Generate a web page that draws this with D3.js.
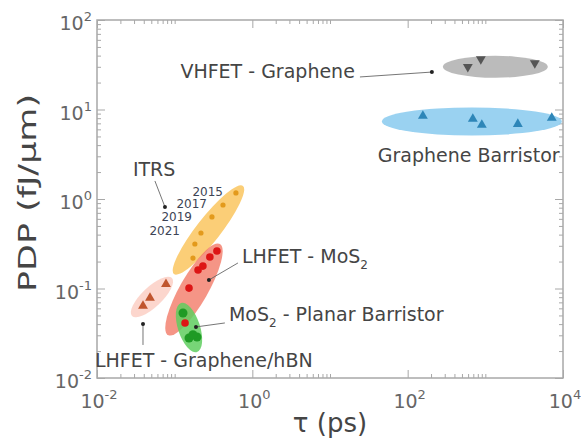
<!DOCTYPE html>
<html>
<head>
<meta charset="utf-8">
<script src="https://cdn.jsdelivr.net/npm/d3@7"></script>
<style>
  body { margin: 0; background: #fff; }
  text { font-family: "DejaVu Sans", sans-serif; fill: #454545; }
</style>
</head>
<body>
<div id="chart"></div>
<script>
// tick values
const xMajor = [1e-2, 1e0, 1e2, 1e4];
const yMajor = [1e-2, 1e-1, 1e0, 1e1, 1e2];

// series: delay tau (ps) and PDP (fJ/um)
const vhfetTau = [595, 875, 4335];
const vhfetPdp = [29.9, 36.6, 33];
const barristorTau = [157, 690, 901, 2620, 7170];
const barristorPdp = [8.46, 7.83, 6.71, 6.88, 8.04];
const itrsTau = [0.615, 0.419, 0.302, 0.218, 0.182, 0.172];
const itrsPdp = [1.17, 0.857, 0.63, 0.417, 0.314, 0.219];
const mos2Tau = [0.350, 0.284, 0.231, 0.200, 0.153, 0.136];
const mos2Pdp = [0.262, 0.225, 0.178, 0.161, 0.101, 0.0412];
const planarTau = [0.128, 0.153, 0.194, 0.172];
const planarPdp = [0.0532, 0.0280, 0.0287, 0.0305];
const grapheneTau = [0.0391, 0.0481, 0.0773];
const graphenePdp = [0.0637, 0.0783, 0.112];

// shaded envelopes: ends of the long axis in data units
const envelopes = [
    {from: [284, 30], to: [6370, 30], fill: "#b4b4b4", opacity: 0.9},
    {from: [46.6, 7.35], to: [9650, 7.35], fill: "#8fcdf0", opacity: 0.9},
    {from: [0.098, 0.145], to: [0.757, 1.40], fill: "#f9bd4a", opacity: 0.75},
    {from: [0.0282, 0.0493], to: [0.0922, 0.131], fill: "#fccfc4", opacity: 0.85},
    {from: [0.082, 0.0302], to: [0.383, 0.314], fill: "#f27a68", opacity: 0.8},
    {from: [0.1205, 0.0689], to: [0.194, 0.0195], fill: "#5fce5f", opacity: 0.85}
];
const envelopeWidth = [11, 14, 12, 10, 14, 11];

// annotation leader lines: [dot, line end]
const leaders = [
    [[205, 26.2], [24.3, 23.1]],
    [[0.075, 0.815], [0.0557, 1.59]],
    [[0.276, 0.1245], [0.653, 0.193]],
    [[0.188, 0.0372], [0.443, 0.0412]],
    [[0.0391, 0.0401], [0.0391, 0.0234]]
];

const labels = [
    {text: "VHFET - Graphene", at: [20.9, 22.5], anchor: "end"},
    {text: "Graphene Barristor", at: [41.3, 2.59], anchor: "start"},
    {text: "ITRS", at: [0.029, 1.81], anchor: "start"},
    {text: "LHFET - MoS", sub: "2", at: [0.734, 0.193], anchor: "start"},
    {text: "MoS", sub: "2", after: " - Planar Barristor", at: [0.5, 0.0434], anchor: "start"},
    {text: "LHFET - Graphene/hBN", at: [0.0094, 0.0133], anchor: "start"}
];
const years = ["2015", "2017", "2019", "2021"];
const yearAt = [[0.419, 1.09], [0.261, 0.80], [0.167, 0.568], [0.117, 0.396]];

const W = 581, H = 441;
const margin = {top: 20, right: 18, bottom: 63, left: 97};
const width = W - margin.left - margin.right;
const height = H - margin.top - margin.bottom;

const svg = d3.select("#chart").append("svg")
    .attr("width", W)
    .attr("height", H)
    .append("g")
    .attr("transform", `translate(${margin.left}, ${margin.top})`);

const x = d3.scaleLog().domain([1e-2, 1e4]).range([0, width]);
const y = d3.scaleLog().domain([1e-2, 1e2]).range([height, 0]);

// minor ticks: x gets 2..10 in the first decade of each labelled pair, y gets 2..9 per decade
let xMinor = [];
[-2, 0, 2].forEach(p => { for (let m = 2; m <= 9; m++) xMinor.push(m * Math.pow(10, p)); xMinor.push(Math.pow(10, p + 1)); });
let yMinor = [];
[-2, -1, 0, 1].forEach(p => { for (let m = 2; m <= 9; m++) yMinor.push(m * Math.pow(10, p)); });

const axisColor = "#a8a8a8";

function styleAxis(g) {
    g.select(".domain").remove();
    g.selectAll("line").attr("stroke", axisColor).attr("stroke-width", 1);
    g.selectAll("text").remove();
}

svg.append("g").attr("transform", `translate(0, ${height})`)
    .call(d3.axisBottom(x).tickValues(xMajor).tickSize(-8)).call(styleAxis);
svg.append("g").attr("transform", `translate(0, ${height})`)
    .call(d3.axisBottom(x).tickValues(xMinor).tickSize(-4)).call(styleAxis);
svg.append("g")
    .call(d3.axisTop(x).tickValues(xMajor).tickSize(-8)).call(styleAxis);
svg.append("g")
    .call(d3.axisTop(x).tickValues(xMinor).tickSize(-4)).call(styleAxis);
svg.append("g")
    .call(d3.axisLeft(y).tickValues(yMajor).tickSize(-8)).call(styleAxis);
svg.append("g")
    .call(d3.axisLeft(y).tickValues(yMinor).tickSize(-4)).call(styleAxis);
svg.append("g").attr("transform", `translate(${width}, 0)`)
    .call(d3.axisRight(y).tickValues(yMajor).tickSize(-8)).call(styleAxis);
svg.append("g").attr("transform", `translate(${width}, 0)`)
    .call(d3.axisRight(y).tickValues(yMinor).tickSize(-4)).call(styleAxis);

svg.append("rect")
    .attr("width", width)
    .attr("height", height)
    .attr("fill", "none")
    .attr("stroke", axisColor)
    .attr("stroke-width", 1.5);

// tick labels as 10^n
function powLabel(sel, v) {
    const e = Math.round(Math.log10(v));
    sel.append("tspan").text("10");
    sel.append("tspan").attr("dy", -9).attr("font-size", 13).text(e);
}

yMajor.forEach(v => {
    svg.append("text")
        .attr("x", -5)
        .attr("y", y(v) + 10)
        .attr("text-anchor", "end")
        .attr("font-size", 19)
        .style("fill", "#666")
        .call(powLabel, v);
});
xMajor.forEach(v => {
    svg.append("text")
        .attr("x", x(v) + 2)
        .attr("y", height + 30)
        .attr("text-anchor", "middle")
        .attr("font-size", 19)
        .style("fill", "#666")
        .call(powLabel, v);
});

// axis titles
svg.append("text")
    .attr("transform", `translate(${-61}, ${height / 2 - 6}) rotate(-90)`)
    .attr("text-anchor", "middle")
    .attr("font-size", 25)
    .attr("textLength", 198)
    .attr("lengthAdjust", "spacingAndGlyphs")
    .text("PDP (fJ/μm)");

svg.append("text")
    .attr("x", width / 2)
    .attr("y", height + 54)
    .attr("text-anchor", "middle")
    .attr("font-size", 26)
    .text("τ (ps)");

// envelopes
envelopes.forEach((e, i) => {
    const x1 = x(e.from[0]), y1 = y(e.from[1]);
    const x2 = x(e.to[0]), y2 = y(e.to[1]);
    const cx = (x1 + x2) / 2, cy = (y1 + y2) / 2;
    const rx = Math.hypot(x2 - x1, y2 - y1) / 2;
    const angle = Math.atan2(y2 - y1, x2 - x1) * 180 / Math.PI;
    svg.append("ellipse")
        .attr("transform", `translate(${cx}, ${cy}) rotate(${angle})`)
        .attr("rx", rx)
        .attr("ry", envelopeWidth[i])
        .attr("fill", e.fill)
        .attr("fill-opacity", e.opacity);
});

// markers
const triUp = d3.symbol().type(d3.symbolTriangle).size(42);

function triangles(tau, pdp, color, down) {
    svg.append("g").selectAll("path")
        .data(d3.zip(tau, pdp))
        .join("path")
        .attr("d", triUp)
        .attr("transform", d => `translate(${x(d[0])}, ${y(d[1])})${down ? " rotate(180)" : ""}`)
        .attr("fill", color);
}

function dots(tau, pdp, color, r) {
    svg.append("g").selectAll("circle")
        .data(d3.zip(tau, pdp))
        .join("circle")
        .attr("cx", d => x(d[0]))
        .attr("cy", d => y(d[1]))
        .attr("r", r)
        .attr("fill", color);
}

triangles(vhfetTau, vhfetPdp, "#555", true);
triangles(barristorTau, barristorPdp, "#2e86b8", false);
dots(itrsTau, itrsPdp, "#e39a1c", 2.6);
dots(mos2Tau, mos2Pdp, "#dd1515", 3.8);
dots(planarTau, planarPdp, "#1f9a25", 4.5);
triangles(grapheneTau, graphenePdp, "#c0552e", false);

// leader lines with end dots
leaders.forEach(l => {
    svg.append("line")
        .attr("x1", x(l[0][0])).attr("y1", y(l[0][1]))
        .attr("x2", x(l[1][0])).attr("y2", y(l[1][1]))
        .attr("stroke", "#666")
        .attr("stroke-width", 0.9);
    svg.append("circle")
        .attr("cx", x(l[0][0])).attr("cy", y(l[0][1]))
        .attr("r", 2)
        .attr("fill", "#222");
});

// labels
labels.forEach(l => {
    const t = svg.append("text")
        .attr("x", x(l.at[0]))
        .attr("y", y(l.at[1]))
        .attr("text-anchor", l.anchor)
        .attr("font-size", 19);
    t.append("tspan").text(l.text);
    if (l.sub) t.append("tspan").attr("dy", 6).attr("font-size", 12).text(l.sub);
    if (l.after) t.append("tspan").attr("dy", -6).text(l.after);
});

years.forEach((yr, i) => {
    svg.append("text")
        .attr("x", x(yearAt[i][0]))
        .attr("y", y(yearAt[i][1]))
        .attr("text-anchor", "end")
        .attr("font-family", "Liberation Serif, serif")
        .attr("font-size", 12)
        .style("fill", "#3d4455")
        .text(yr);
});
</script>
</body>
</html>
